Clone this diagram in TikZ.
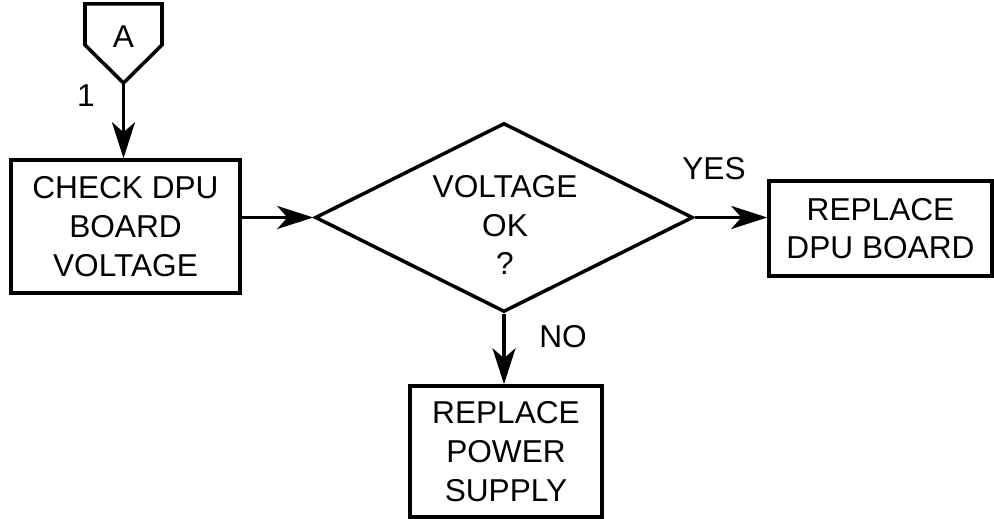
\documentclass[tikz,border=0pt]{standalone}
\usepackage{fontspec}
\setmainfont{Liberation Sans}
\usetikzlibrary{shapes.geometric,arrows.meta}
\begin{document}
\begin{tikzpicture}[x=0.02cm,y=-0.02cm,
  every node/.style={font=\fontsize{18}{22}\selectfont},
  box/.style={draw, line width=2pt, inner sep=0pt, align=center},
  conn/.style={line width=2pt, -{Stealth[length=0.72cm,width=0.46cm,inset=0.2cm]}},
  lbl/.style={inner sep=0pt, align=center}]
\useasboundingbox (0,0) rectangle (994,519);
% off-page connector
\draw[line width=2pt, line join=miter] (85,4) -- (162,4) -- (162,45) -- (123.5,83) -- (85,45) -- cycle;
\coordinate (Abot) at (123.5,83);
\node[lbl] (A) at (123.5,37) {A};
\node[lbl] (one) at (86,96) {1};
% boxes
\node[box, minimum width=4.58cm, minimum height=2.66cm] (check) at (125.5,226.5)
  {CHECK DPU\\BOARD\\VOLTAGE};
\node[draw, diamond, line width=2pt, minimum width=7.56cm, minimum height=3.78cm,
  inner sep=0pt] (ok) at (504,217.5) {};
\node[lbl] (oktext) at (505,225) {VOLTAGE\\OK\\?};
\node[box, minimum width=4.46cm, minimum height=1.9cm] (dpu) at (880.5,228.5)
  {REPLACE\\DPU BOARD};
\node[box, minimum width=3.84cm, minimum height=2.62cm] (psu) at (506,451.5)
  {REPLACE\\POWER\\SUPPLY};
% connectors
\draw[conn] (Abot) -- (check.north -| Abot);
\draw[conn] (check.east |- ok.west) -- (ok.west);
\draw[conn] (ok.east) -- (dpu.west |- ok.east);
\draw[conn] (ok.south) -- (psu.north -| ok.south);
% labels
\node[lbl] (yes) at (714,169) {YES};
\node[lbl] (no) at (563,337) {NO};
\end{tikzpicture}
\end{document}
